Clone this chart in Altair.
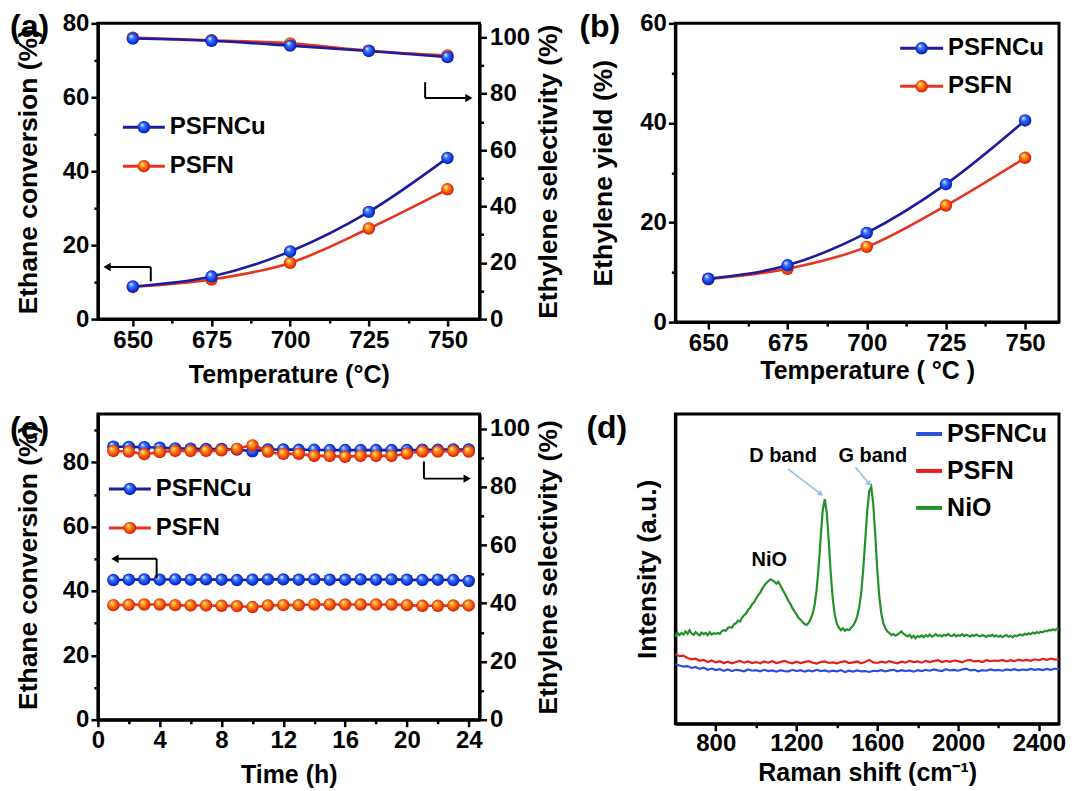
import altair as alt
import pandas as pd

FONT = "Liberation Sans, Arial, Helvetica, sans-serif"

# ---------------- data ----------------
series_names = ["PSFNCu", "PSFN"]
raman_names = ["PSFNCu", "PSFN", "NiO"]

# (a) / (b)
temperature = [650, 675, 700, 725, 750]
conv_psfncu = [8.8, 11.5, 18.3, 29.0, 43.6]
conv_psfn = [8.7, 10.7, 15.2, 24.5, 35.1]
sel_psfncu = [99.6, 98.8, 97.1, 95.2, 93.0]
sel_psfn = [99.9, 99.0, 97.9, 95.3, 93.6]
yield_psfncu = [8.7, 11.4, 17.9, 27.7, 40.5]
yield_psfn = [8.6, 10.7, 15.1, 23.4, 33.0]

# (c)
time_h = [1, 2, 3, 4, 5, 6, 7, 8, 9, 10, 11, 12, 13, 14, 15, 16, 17, 18, 19, 20, 21, 22, 23, 24]
stab_conv_psfncu = [43.4, 43.5, 43.6, 43.5, 43.6, 43.5, 43.6, 43.5, 43.4, 43.5, 43.6, 43.6,
                    43.5, 43.6, 43.5, 43.5, 43.6, 43.5, 43.6, 43.5, 43.4, 43.5, 43.4, 43.1]
stab_conv_psfn = [35.6, 35.7, 35.8, 35.8, 35.6, 35.5, 35.5, 35.4, 35.3, 35.0, 35.5, 35.6,
                  35.6, 35.8, 35.8, 35.8, 35.8, 35.8, 35.8, 35.6, 35.4, 35.4, 35.5, 35.5]
stab_sel_psfncu = [93.8, 93.7, 93.6, 93.4, 93.2, 93.1, 93.0, 93.0, 92.8, 92.2, 92.8, 92.8,
                   92.7, 92.7, 92.6, 92.6, 92.6, 92.6, 92.6, 92.6, 92.7, 92.7, 92.8, 92.8]
stab_sel_psfn = [92.3, 92.1, 91.2, 91.9, 92.3, 92.3, 92.3, 92.5, 93.0, 94.2, 92.1, 91.3,
                 91.3, 90.6, 90.6, 90.3, 90.6, 90.6, 90.6, 91.4, 92.1, 92.1, 92.3, 92.1]

# (d) Raman spectra (relative intensity)
raman_shift_nio = list(range(600, 2501, 10))
raman_nio = [
    28.0, 29.5, 28.6, 29.3, 28.8, 29.8, 29.0, 30.2, 29.1, 28.7, 29.6, 29.0, 28.5, 29.4, 28.9,
    29.3, 28.6, 29.5, 28.8, 29.2, 29.0,
    29.3, 29.0, 29.8, 30.2, 30.0, 30.9, 31.2, 31.0, 32.1, 32.4,
    33.3, 33.0, 34.2, 35.0, 35.6, 36.8, 37.4, 38.6, 39.2, 40.4,
    41.5, 42.3, 43.6, 44.5, 45.4, 46.0, 46.6, 46.3, 45.9, 45.2,
    45.8, 44.6, 43.4, 42.2, 41.0, 39.6, 38.6, 37.3, 36.2, 35.3,
    34.2, 33.6, 32.8, 32.2, 31.9,
    32.6, 33.8, 35.5, 38.5, 43.5, 51.0, 60.5, 69.0, 72.5, 68.0,
    58.5, 48.0, 40.0, 35.0, 32.2, 31.0, 30.2, 30.8, 30.0, 30.5,
    30.2, 31.0, 31.6, 32.8, 34.5, 37.5, 42.0, 49.5, 59.0, 68.5,
    75.0, 76.5, 71.0, 61.0, 49.5, 41.0, 35.5, 32.5, 30.8, 29.8,
    29.3, 28.6, 29.0, 28.4, 28.8,
    29.3, 29.8, 29.0, 28.6, 28.2, 28.7, 27.8, 28.4, 27.6, 28.3,
    28.0, 28.5, 27.9, 28.6, 28.2, 28.8, 28.1, 28.4, 28.9, 28.3,
    28.6, 28.2, 28.7, 28.4, 29.0, 28.5, 28.3, 28.8, 28.2, 28.6,
    28.4, 28.9, 28.3, 28.7, 28.5, 28.1, 28.6, 28.3, 28.8, 28.4,
    28.2, 28.6, 28.4, 28.0, 28.5, 28.3, 28.7, 28.2, 28.5, 28.1,
    28.4, 28.0, 28.3, 28.6, 28.1, 28.4, 27.9, 28.5, 28.2, 28.6,
    28.8, 28.5, 29.0, 28.7, 29.2, 28.9, 29.4, 29.1, 29.6, 29.3,
    29.7, 29.5, 30.0, 29.8, 30.3, 30.1, 30.5, 30.2, 30.6, 30.4,
]
raman_shift_base = list(range(600, 2501, 20))
raman_psfn = [
    22.5, 21.8, 22.0, 21.2, 20.8, 21.0, 20.3, 20.6, 19.9, 20.4,
    19.8, 20.2, 19.6, 20.0, 19.5, 19.9, 20.3, 19.7, 20.1, 19.6,
    19.9, 19.5, 20.1, 19.7, 20.2, 19.6, 19.9, 20.3, 19.8, 19.5,
    20.0, 19.6, 19.9, 20.2, 19.7, 19.4, 19.9, 20.1, 19.6, 19.8,
    19.5, 19.9, 20.2, 19.6, 19.8, 20.1, 19.5, 19.9, 20.6, 19.8,
    19.6, 20.0, 19.7, 20.2, 19.8, 19.5, 20.0, 19.7, 20.3, 19.9,
    20.1, 19.7, 20.3, 19.9, 20.2, 20.5, 19.9, 20.3, 20.0, 20.4,
    20.2, 19.8, 20.4, 20.6, 20.1, 20.3, 19.9, 20.5, 20.2, 20.4,
    20.3, 20.6, 20.1, 20.5, 20.2, 20.7, 20.4, 20.6, 20.3, 20.8,
    20.5, 20.9, 20.6, 21.0, 20.7, 20.8,
]
raman_psfncu = [
    19.3, 18.8, 18.4, 18.6, 18.0, 18.3, 17.7, 18.1, 17.4, 17.8,
    17.3, 17.6, 17.1, 17.5, 17.0, 17.4, 17.2, 16.9, 17.5, 17.1,
    17.3, 16.9, 17.4, 17.0, 17.2, 16.8, 17.3, 17.0, 16.9, 17.4,
    17.0, 17.3, 16.8, 17.2, 16.9, 17.4, 17.0, 17.2, 16.8, 17.1,
    16.9, 17.3, 16.7, 17.1, 16.8, 17.2, 16.9, 17.0, 16.7, 17.1,
    17.0, 17.3, 16.9, 17.2, 17.4, 16.9, 17.3, 17.0, 17.2, 16.8,
    17.3, 17.0, 17.4, 17.1, 17.5, 17.2, 17.0, 17.6, 17.2, 17.4,
    17.1, 17.5, 17.8, 17.2, 17.4, 16.9, 17.3, 17.1, 17.5, 17.2,
    17.4, 17.1, 17.5, 17.3, 17.6, 17.2, 17.5, 17.3, 17.7, 17.4,
    17.6, 17.3, 17.7, 17.4, 17.8, 17.5,
]

# (d) annotations (data units)
peak_labels = ["NiO", "D band", "G band"]
peak_label_x = [1065, 1133, 1578]
peak_label_y = [53.0, 86.5, 86.5]
peak_arrow_x = [1159, 1492]
peak_arrow_y = [82.2, 82.8]
peak_arrow_x2 = [1321, 1561]
peak_arrow_y2 = [74.1, 77.4]
peak_arrow_angle = [127, 140]

# ---------------- styles ----------------
NAVY = "#1c1c9e"
REDLINE = "#e6341e"
BLUE_GRAD = {"gradient": "radial", "x1": 0.35, "y1": 0.3, "r1": 0.02,
             "x2": 0.5, "y2": 0.5, "r2": 0.55,
             "stops": [{"offset": 0.0, "color": "#e8f1ff"},
                       {"offset": 0.3, "color": "#4078ff"},
                       {"offset": 0.75, "color": "#0b30d8"},
                       {"offset": 1.0, "color": "#071c8e"}]}
RED_GRAD = {"gradient": "radial", "x1": 0.35, "y1": 0.3, "r1": 0.02,
            "x2": 0.5, "y2": 0.5, "r2": 0.55,
            "stops": [{"offset": 0.0, "color": "#fff3a0"},
                      {"offset": 0.3, "color": "#ff9a1c"},
                      {"offset": 0.72, "color": "#f03c0e"},
                      {"offset": 1.0, "color": "#b01a00"}]}
YTITLE = 26.5


def tick_cond(step):
    return {"condition": {"test": f"datum.value % {step} == 0", "value": 7}, "value": 4}


def lab_expr(step):
    return f"datum.value % {step} == 0 ? datum.label : ''"


def series(df, xf, yf, xsc, xax, ysc, yax, line_color, grad):
    base = alt.Chart(df).encode(
        x=alt.X(f"{xf}:Q", scale=xsc, axis=xax),
        y=alt.Y(f"{yf}:Q", scale=ysc, axis=yax),
    )
    return [
        base.mark_line(color=line_color, strokeWidth=2.6, interpolate="monotone"),
        base.mark_point(filled=True, fill=grad, size=155, opacity=1, strokeWidth=0),
    ]


def elbow_arrow(xsc, xax, ysc, yax, x_corner, y_h, y_end, x_tip, head):
    d = pd.DataFrame({"xc": [x_corner], "yh": [y_h], "ye": [y_end], "xt": [x_tip]})
    c = alt.Chart(d)
    v = c.mark_rule(color="black", strokeWidth=2).encode(
        x=alt.X("xc:Q", scale=xsc, axis=xax), y=alt.Y("yh:Q", scale=ysc, axis=yax), y2="ye:Q")
    h = c.mark_rule(color="black", strokeWidth=2).encode(
        x=alt.X("xc:Q", scale=xsc, axis=xax), x2="xt:Q", y=alt.Y("yh:Q", scale=ysc, axis=yax))
    p = c.mark_point(shape=head, filled=True, color="black", size=70, opacity=1).encode(
        x=alt.X("xt:Q", scale=xsc, axis=xax), y=alt.Y("yh:Q", scale=ysc, axis=yax))
    return [v, h, p]


def legend_entry(label, line_color, grad, x0, y0, line_len, fs, lw=3):
    c = alt.Chart(pd.DataFrame({"label": [label]}))
    out = [c.mark_rule(color=line_color, strokeWidth=lw).encode(
        x=alt.value(x0), x2=alt.value(x0 + line_len), y=alt.value(y0))]
    if grad is not None:
        out.append(c.mark_point(filled=True, fill=grad, size=155, opacity=1, strokeWidth=0).encode(
            x=alt.value(x0 + line_len / 2), y=alt.value(y0)))
    out.append(c.mark_text(align="left", baseline="middle", font=FONT, fontSize=fs,
                           fontWeight="bold", color="black").encode(
        x=alt.value(x0 + line_len + 5), y=alt.value(y0), text="label:N"))
    return out


def panel_label(txt, x, y):
    return alt.Chart(pd.DataFrame({"label": [txt]})).mark_text(
        align="left", baseline="middle", font=FONT, fontSize=32, fontWeight="bold",
        color="black").encode(x=alt.value(x), y=alt.value(y), text="label:N")


# ---------------- panel (a) ----------------
dfA = pd.DataFrame({"T": temperature, "conv_cu": conv_psfncu, "conv_n": conv_psfn,
                    "sel_cu": sel_psfncu, "sel_n": sel_psfn,
                    "yield_cu": yield_psfncu, "yield_n": yield_psfn})

xA = alt.Scale(domain=[638.9, 760.2], nice=False, zero=False)
axA_x = alt.Axis(title="Temperature (°C)", values=[650, 662.5, 675, 687.5, 700, 712.5, 725, 737.5, 750],
                 labelExpr=lab_expr(25), tickSize=tick_cond(25), format="d",
                 labelPadding=2, titlePadding=10)
yA_l = alt.Scale(domain=[0, 80], nice=False)
axA_l = alt.Axis(title="Ethane conversion (%)", values=[0, 10, 20, 30, 40, 50, 60, 70, 80],
                 labelExpr=lab_expr(20), tickSize=tick_cond(20), format="d",
                 labelPadding=2, titlePadding=20, titleFontSize=YTITLE)
yA_r = alt.Scale(domain=[0, 105], nice=False)
axA_r = alt.Axis(title="Ethylene selectivity (%)", orient="right",
                 values=[0, 10, 20, 30, 40, 50, 60, 70, 80, 90, 100],
                 labelExpr=lab_expr(20), tickSize=tick_cond(20), format="d",
                 labelPadding=3, titlePadding=6, titleAngle=270, titleBaseline="top",
                 titleFontSize=YTITLE)

a_left = alt.layer(
    *series(dfA, "T", "conv_n", xA, axA_x, yA_l, axA_l, REDLINE, RED_GRAD),
    *series(dfA, "T", "conv_cu", xA, axA_x, yA_l, axA_l, NAVY, BLUE_GRAD),
    *elbow_arrow(xA, axA_x, yA_l, axA_l, 655.7, 14.1, 10.2, 641.8, "triangle-left"),
)
a_right = alt.layer(
    *series(dfA, "T", "sel_n", xA, axA_x, yA_r, axA_r, REDLINE, RED_GRAD),
    *series(dfA, "T", "sel_cu", xA, axA_x, yA_r, axA_r, NAVY, BLUE_GRAD),
    *elbow_arrow(xA, axA_x, yA_r, axA_r, 742.9, 78.5, 84.1, 756.8, "triangle-right"),
)
panelA = alt.layer(
    a_left, a_right,
    *legend_entry(series_names[0], NAVY, BLUE_GRAD, 25, 104, 42, 24),
    *legend_entry(series_names[1], REDLINE, RED_GRAD, 25, 143, 42, 24),
    panel_label("(a)", -88, 4),
).resolve_scale(y="independent").properties(width=382, height=296)

# ---------------- panel (b) ----------------
xB = alt.Scale(domain=[639.6, 760.7], nice=False, zero=False)
axB_x = alt.Axis(title="Temperature ( °C )", values=[650, 662.5, 675, 687.5, 700, 712.5, 725, 737.5, 750],
                 labelExpr=lab_expr(25), tickSize=tick_cond(25), format="d",
                 labelPadding=2, titlePadding=3)
yB = alt.Scale(domain=[0, 60], nice=False)
axB_y = alt.Axis(title="Ethylene yield (%)", values=[0, 10, 20, 30, 40, 50, 60],
                 labelExpr=lab_expr(20), tickSize=tick_cond(20), format="d",
                 labelPadding=2, titlePadding=22, titleFontSize=YTITLE)
panelB = alt.layer(
    *series(dfA, "T", "yield_n", xB, axB_x, yB, axB_y, REDLINE, RED_GRAD),
    *series(dfA, "T", "yield_cu", xB, axB_x, yB, axB_y, NAVY, BLUE_GRAD),
    *legend_entry(series_names[0], NAVY, BLUE_GRAD, 225, 25, 43, 24),
    *legend_entry(series_names[1], REDLINE, RED_GRAD, 225, 63, 43, 24),
    panel_label("(b)", -96, 4),
).properties(width=384, height=299)

# ---------------- panel (c) ----------------
dfC = pd.DataFrame({"t": time_h, "conv_cu": stab_conv_psfncu, "conv_n": stab_conv_psfn,
                    "sel_cu": stab_sel_psfncu, "sel_n": stab_sel_psfn})
xC = alt.Scale(domain=[0, 24.7], nice=False, zero=False)
axC_x = alt.Axis(title="Time (h)", values=[0, 2, 4, 6, 8, 10, 12, 14, 16, 18, 20, 22, 24],
                 labelExpr=lab_expr(4), tickSize=tick_cond(4), format="d",
                 labelPadding=2, titlePadding=10)
yC_l = alt.Scale(domain=[0, 95], nice=False)
axC_l = alt.Axis(title="Ethane conversion (%)", values=[0, 10, 20, 30, 40, 50, 60, 70, 80, 90],
                 labelExpr=lab_expr(20), tickSize=tick_cond(20), format="d",
                 labelPadding=2, titlePadding=20, titleFontSize=YTITLE)
yC_r = alt.Scale(domain=[0, 105], nice=False)
axC_r = alt.Axis(title="Ethylene selectivity (%)", orient="right",
                 values=[0, 10, 20, 30, 40, 50, 60, 70, 80, 90, 100],
                 labelExpr=lab_expr(20), tickSize=tick_cond(20), format="d",
                 labelPadding=3, titlePadding=6, titleAngle=270, titleBaseline="top",
                 titleFontSize=YTITLE)
c_left = alt.layer(
    *series(dfC, "t", "conv_cu", xC, axC_x, yC_l, axC_l, NAVY, BLUE_GRAD),
    *series(dfC, "t", "conv_n", xC, axC_x, yC_l, axC_l, REDLINE, RED_GRAD),
    *elbow_arrow(xC, axC_x, yC_l, axC_l, 3.8, 50.0, 44.0, 1.1, "triangle-left"),
)
c_right = alt.layer(
    *series(dfC, "t", "sel_cu", xC, axC_x, yC_r, axC_r, NAVY, BLUE_GRAD),
    *series(dfC, "t", "sel_n", xC, axC_x, yC_r, axC_r, REDLINE, RED_GRAD),
    *elbow_arrow(xC, axC_x, yC_r, axC_r, 21.1, 82.8, 88.7, 23.9, "triangle-right"),
)
panelC = alt.layer(
    c_left, c_right,
    *legend_entry(series_names[0], NAVY, BLUE_GRAD, 11, 75, 42, 24),
    *legend_entry(series_names[1], REDLINE, RED_GRAD, 11, 114, 42, 24),
    panel_label("(c)", -88, 15),
).resolve_scale(y="independent").properties(width=382, height=306)

# ---------------- panel (d) ----------------
dfD_nio = pd.DataFrame({"shift": raman_shift_nio, "I": raman_nio})
dfD_base = pd.DataFrame({"shift": raman_shift_base, "psfn": raman_psfn, "psfncu": raman_psfncu})
xD = alt.Scale(domain=[600, 2500], nice=False, zero=False)
axD_x = alt.Axis(title="Raman shift (cm⁻¹)", values=[800, 1000, 1200, 1400, 1600, 1800, 2000, 2200, 2400],
                 labelExpr=lab_expr(400), tickSize=tick_cond(400), format="d",
                 labelPadding=1, titlePadding=5)
yD = alt.Scale(domain=[0, 100], nice=False)
axD_y = alt.Axis(title="Intensity (a.u.)", labels=False, ticks=False, titlePadding=14,
                 titleFontSize=YTITLE)

BLUE_D = "#2b4fde"
RED_D = "#e4201e"
GREEN_D = "#23902a"


def spec_line(df, yf, color):
    return alt.Chart(df).mark_line(color=color, strokeWidth=2.2).encode(
        x=alt.X("shift:Q", scale=xD, axis=axD_x), y=alt.Y(f"{yf}:Q", scale=yD, axis=axD_y))


dfPeak = pd.DataFrame({"x": peak_label_x, "y": peak_label_y, "t": peak_labels})
dfArr = pd.DataFrame({"x": peak_arrow_x, "y": peak_arrow_y, "x2": peak_arrow_x2,
                      "y2": peak_arrow_y2, "ang": peak_arrow_angle})
peak_text = alt.Chart(dfPeak).mark_text(font=FONT, fontSize=20, fontWeight="bold", color="black",
                                        baseline="middle", align="center").encode(
    x=alt.X("x:Q", scale=xD, axis=axD_x), y=alt.Y("y:Q", scale=yD, axis=axD_y), text="t:N")
peak_arrows = alt.Chart(dfArr).mark_rule(color="#8cc3ea", strokeWidth=1.6).encode(
    x=alt.X("x:Q", scale=xD, axis=axD_x), y=alt.Y("y:Q", scale=yD, axis=axD_y), x2="x2:Q", y2="y2:Q")
peak_heads = alt.Chart(dfArr).mark_point(shape="triangle-up", filled=True, color="#8cc3ea",
                                         size=40, opacity=1).encode(
    x=alt.X("x2:Q", scale=xD, axis=axD_x), y=alt.Y("y2:Q", scale=yD, axis=axD_y),
    angle=alt.Angle("ang:Q", scale=None))

panelD = alt.layer(
    spec_line(dfD_nio, "I", GREEN_D),
    spec_line(dfD_base, "psfn", RED_D),
    spec_line(dfD_base, "psfncu", BLUE_D),
    peak_arrows, peak_heads, peak_text,
    *legend_entry(raman_names[0], BLUE_D, None, 241, 20, 26, 25, lw=4),
    *legend_entry(raman_names[1], RED_D, None, 241, 57, 26, 25, lw=4),
    *legend_entry(raman_names[2], GREEN_D, None, 241, 94, 26, 25, lw=4),
    panel_label("(d)", -89, 14),
).properties(width=384, height=310)

# ---------------- assemble ----------------
chart = alt.concat(
    panelA, panelB, panelC, panelD, columns=2,
    spacing={"row": 92, "column": 196}, bounds="flush",
).properties(
    padding={"left": 0, "top": 1, "right": 5, "bottom": 5},
    background="white",
).configure_view(
    stroke="black", strokeWidth=3
).configure_axis(
    grid=False, domainColor="black", domainWidth=3, tickColor="black", tickWidth=2.5,
    labelFont=FONT, labelFontSize=24, labelFontWeight="bold", labelColor="black",
    titleFont=FONT, titleFontSize=25, titleFontWeight="bold", titleColor="black",
    labelFlush=False, labelOverlap=False,
)

chart.save("out.html", embed_options={"renderer": "svg", "actions": False})
